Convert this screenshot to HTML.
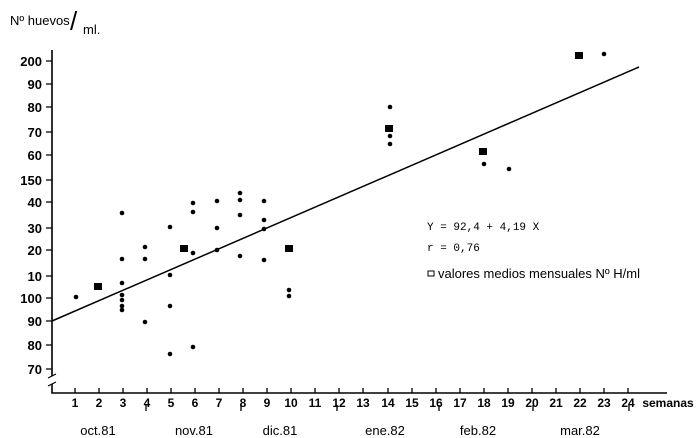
<!DOCTYPE html><html><head><style>body{margin:0;background:#fff}svg{display:block}text{font-family:"Liberation Sans",sans-serif;fill:#000}</style></head><body>
<svg width="700" height="438" viewBox="0 0 700 438">
<text x="10" y="25" font-size="13">Nº huevos</text><text x="70" y="30" font-size="26">/</text><text x="83" y="34" font-size="13">ml.</text>
<g stroke="#000" stroke-width="1.6" fill="none">
<path d="M52 50V376M52 384V393H667"/>
<path d="M48 378L56 374M48 386L56 382" stroke-width="1.2"/>
<path d="M52 321L639 67" stroke-width="1.5"/>
</g>
<g font-size="13" text-anchor="end" font-weight="bold">
<text x="42" y="66">200</text><text x="42" y="89">90</text><text x="42" y="112">80</text><text x="42" y="137">70</text><text x="42" y="160">60</text><text x="42" y="185">150</text><text x="42" y="207">40</text><text x="42" y="233">30</text><text x="42" y="255">20</text><text x="42" y="281">10</text><text x="42" y="303">100</text><text x="42" y="326">90</text><text x="42" y="350">80</text><text x="42" y="374">70</text>
</g>
<g stroke="#000" stroke-width="1.3">
<path d="M46 61H52M46 84H52M46 107H52M46 132H52M46 155H52M46 180H52M46 202H52M46 228H52M46 250H52M46 276H52M46 298H52M46 321H52M46 345H52M46 369H52"/>
<path d="M75 393v-5M99 393v-5M123 393v-5M147 393v-5M171 393v-5M195 393v-5M219 393v-5M243 393v-5M267 393v-5M291 393v-5M315 393v-5M339 393v-5M363 393v-5M388 393v-5M412 393v-5M436 393v-5M460 393v-5M484 393v-5M508 393v-5M532 393v-5M556 393v-5M580 393v-5M604 393v-5M628 393v-5"/>
<path d="M146 405v6M241 405v6M337 405v6M439 405v6M533 405v6M629 405v6"/>
</g>
<g font-size="12" text-anchor="middle" font-weight="bold">
<text x="75" y="407">1</text><text x="99" y="407">2</text><text x="123" y="407">3</text><text x="147" y="407">4</text><text x="171" y="407">5</text><text x="195" y="407">6</text><text x="219" y="407">7</text><text x="243" y="407">8</text><text x="267" y="407">9</text><text x="291" y="407">10</text><text x="315" y="407">11</text><text x="339" y="407">12</text><text x="363" y="407">13</text><text x="388" y="407">14</text><text x="412" y="407">15</text><text x="436" y="407">16</text><text x="460" y="407">17</text><text x="484" y="407">18</text><text x="508" y="407">19</text><text x="532" y="407">20</text><text x="556" y="407">21</text><text x="580" y="407">22</text><text x="604" y="407">23</text><text x="628" y="407">24</text>
<text x="668" y="407">semanas</text>
</g>
<g font-size="13" text-anchor="middle">
<text x="98" y="435">oct.81</text><text x="194" y="435">nov.81</text><text x="280" y="435">dic.81</text><text x="385" y="435">ene.82</text><text x="478" y="435">feb.82</text><text x="580" y="435">mar.82</text>
</g>
<g>
<circle cx="76" cy="297" r="2.3"/><circle cx="122" cy="213" r="2.3"/><circle cx="122" cy="259" r="2.3"/><circle cx="122" cy="283" r="2.3"/><circle cx="122" cy="295" r="2.3"/><circle cx="122" cy="300" r="2.3"/><circle cx="122" cy="306" r="2.3"/><circle cx="122" cy="310" r="2.3"/>
<circle cx="145" cy="247" r="2.3"/><circle cx="145" cy="259" r="2.3"/><circle cx="145" cy="322" r="2.3"/>
<circle cx="170" cy="227" r="2.3"/><circle cx="170" cy="275" r="2.3"/><circle cx="170" cy="306" r="2.3"/><circle cx="170" cy="354" r="2.3"/>
<circle cx="193" cy="203" r="2.3"/><circle cx="193" cy="212" r="2.3"/><circle cx="193" cy="253" r="2.3"/><circle cx="193" cy="347" r="2.3"/>
<circle cx="217" cy="201" r="2.3"/><circle cx="217" cy="228" r="2.3"/><circle cx="217" cy="250" r="2.3"/>
<circle cx="240" cy="193" r="2.3"/><circle cx="240" cy="200" r="2.3"/><circle cx="240" cy="215" r="2.3"/><circle cx="240" cy="256" r="2.3"/>
<circle cx="264" cy="201" r="2.3"/><circle cx="264" cy="220" r="2.3"/><circle cx="264" cy="229" r="2.3"/><circle cx="264" cy="260" r="2.3"/>
<circle cx="289" cy="290" r="2.3"/><circle cx="289" cy="296" r="2.3"/>
<circle cx="390" cy="107" r="2.3"/><circle cx="390" cy="136" r="2.3"/><circle cx="390" cy="144" r="2.3"/>
<circle cx="484" cy="164" r="2.3"/><circle cx="509" cy="169" r="2.3"/><circle cx="604" cy="54" r="2.3"/>
<rect x="94" y="283" width="8" height="7"/><rect x="180" y="245" width="8" height="7"/><rect x="285" y="245" width="8" height="7"/><rect x="385" y="125" width="8" height="7"/><rect x="479" y="148" width="8" height="7"/><rect x="575" y="52" width="8" height="7"/>
</g>
<text x="427" y="230" font-size="11" style="font-family:'Liberation Mono',monospace">Y = 92,4 + 4,19 X</text>
<text x="427" y="251" font-size="11" style="font-family:'Liberation Mono',monospace">r = 0,76</text>
<rect x="428" y="271" width="6" height="5" fill="none" stroke="#000"/>
<text x="438" y="278" font-size="13">valores medios mensuales  Nº H/ml</text>
</svg></body></html>
